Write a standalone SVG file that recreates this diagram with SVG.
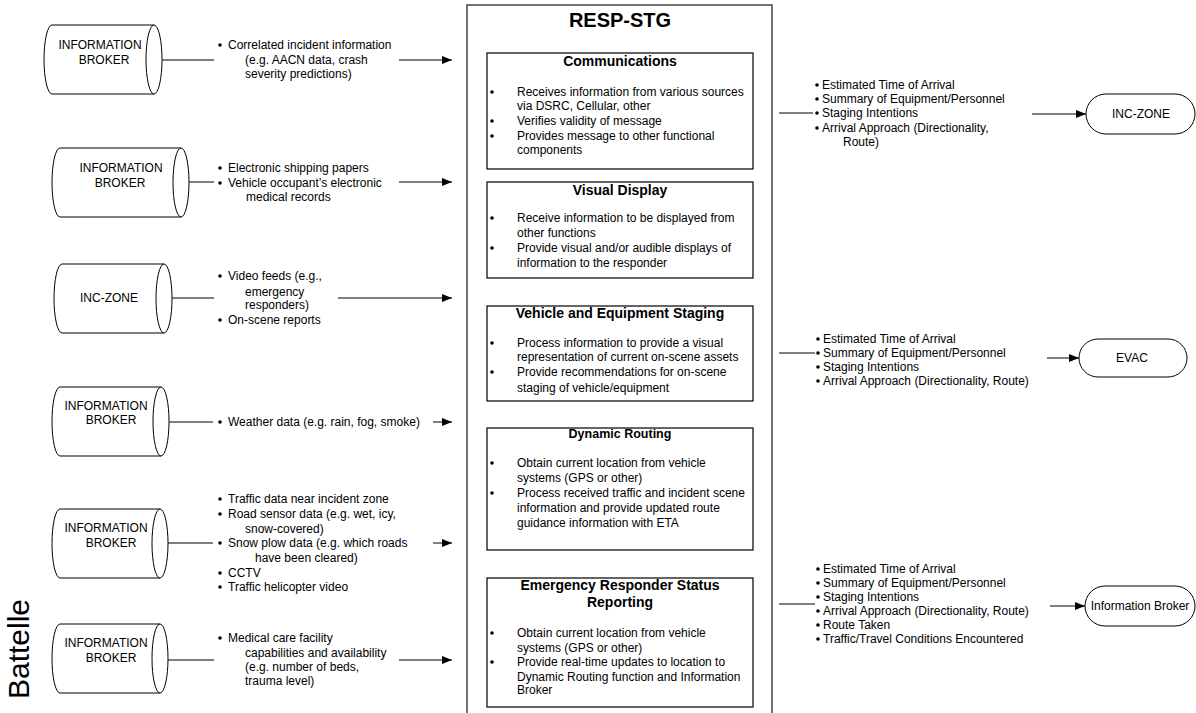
<svg xmlns="http://www.w3.org/2000/svg" width="1196" height="713" viewBox="0 0 1196 713">
  <defs>
    <style>
      text { font-family: "Liberation Sans", Arial, sans-serif; fill: #000; }
      .t { font-size: 12px; }
      .lbl { font-size: 12px; text-anchor: middle; }
      .hd { font-size: 14px; font-weight: bold; text-anchor: middle; }
      .hd2 { font-size: 12.5px; font-weight: bold; text-anchor: middle; }
      .title { font-size: 20px; font-weight: bold; text-anchor: middle; }
      .cyl { fill: #fff; stroke: #000; stroke-width: 1; }
      .box { fill: #fff; stroke: #000; stroke-width: 1.2; }
      .outer { fill: #fff; stroke: #444; stroke-width: 1.5; }
      .term { fill: #fff; stroke: #000; stroke-width: 1; }
      .ln { fill: none; stroke: #000; stroke-width: 1; }
      .arr { fill: none; stroke: #000; stroke-width: 1; marker-end: url(#ah); }
      .dot { fill: #000; }
    </style>
    <marker id="ah" viewBox="0 0 10 8" refX="10" refY="4" markerWidth="10" markerHeight="8" markerUnits="userSpaceOnUse" orient="auto">
      <path d="M0,0 L10,4 L0,8 Z" fill="#000"/>
    </marker>
  </defs>

  <rect width="1196" height="713" fill="#fff"/>

  <!-- RESP-STG container -->
  <g id="resp-stg">
    <rect class="outer" x="467" y="5" width="305" height="720"/>
    <text class="title" x="620" y="27">RESP-STG</text>
  </g>

  <g id="communications">
    <rect class="box" x="487" y="53" width="266" height="116"/>
    <text class="hd" x="620" y="66">Communications</text>
    <circle class="dot" cx="492" cy="92" r="1.8"/>
    <circle class="dot" cx="492" cy="121" r="1.8"/>
    <circle class="dot" cx="492" cy="136" r="1.8"/>
    <text class="t" x="517" y="96">Receives information from various sources</text>
    <text class="t" x="517" y="110">via DSRC, Cellular, other</text>
    <text class="t" x="517" y="125">Verifies validity of message</text>
    <text class="t" x="517" y="140">Provides message to other functional</text>
    <text class="t" x="517" y="154">components</text>
  </g>

  <g id="visual-display">
    <rect class="box" x="487" y="182" width="266" height="96"/>
    <text class="hd" x="620" y="195">Visual Display</text>
    <circle class="dot" cx="492" cy="218" r="1.8"/>
    <circle class="dot" cx="492" cy="248" r="1.8"/>
    <text class="t" x="517" y="222">Receive information to be displayed from</text>
    <text class="t" x="517" y="237">other functions</text>
    <text class="t" x="517" y="252">Provide visual and/or audible displays of</text>
    <text class="t" x="517" y="267">information to the responder</text>
  </g>

  <g id="vehicle-staging">
    <rect class="box" x="487" y="306" width="266" height="95"/>
    <text class="hd" x="620" y="318">Vehicle and Equipment Staging</text>
    <circle class="dot" cx="492" cy="343" r="1.8"/>
    <circle class="dot" cx="492" cy="372" r="1.8"/>
    <text class="t" x="517" y="347">Process information to provide a visual</text>
    <text class="t" x="517" y="361">representation of current on-scene assets</text>
    <text class="t" x="517" y="376">Provide recommendations for on-scene</text>
    <text class="t" x="517" y="392">staging of vehicle/equipment</text>
  </g>

  <g id="dynamic-routing">
    <rect class="box" x="487" y="428" width="266" height="122"/>
    <text class="hd2" x="620" y="438">Dynamic Routing</text>
    <circle class="dot" cx="492" cy="463" r="1.8"/>
    <circle class="dot" cx="492" cy="493" r="1.8"/>
    <text class="t" x="517" y="467">Obtain current location from vehicle</text>
    <text class="t" x="517" y="482">systems (GPS or other)</text>
    <text class="t" x="517" y="497">Process received traffic and incident scene</text>
    <text class="t" x="517" y="512">information and provide updated route</text>
    <text class="t" x="517" y="527">guidance information with ETA</text>
  </g>

  <g id="status-reporting">
    <rect class="box" x="487" y="578" width="266" height="129"/>
    <text class="hd" x="620" y="590">Emergency Responder Status</text>
    <text class="hd" x="620" y="607">Reporting</text>
    <circle class="dot" cx="492" cy="633" r="1.8"/>
    <circle class="dot" cx="492" cy="662" r="1.8"/>
    <text class="t" x="517" y="637">Obtain current location from vehicle</text>
    <text class="t" x="517" y="652">systems (GPS or other)</text>
    <text class="t" x="517" y="666">Provide real-time updates to location to</text>
    <text class="t" x="517" y="681">Dynamic Routing function and Information</text>
    <text class="t" x="517" y="694">Broker</text>
  </g>

  <!-- Source stores (cylinders) -->
  <g id="src-broker-1">
    <path class="cyl" d="M154,25 L52,25 A8,34.5 0 0 0 52,94 L154,94"/>
    <ellipse class="cyl" cx="154" cy="59.5" rx="8" ry="34.5"/>
    <text class="lbl" x="100" y="49">INFORMATION</text>
    <text class="lbl" x="104" y="64">BROKER</text>
  </g>
  <g id="src-broker-2">
    <path class="cyl" d="M181,148 L60,148 A8,34.5 0 0 0 60,217 L181,217"/>
    <ellipse class="cyl" cx="181" cy="182.5" rx="8" ry="34.5"/>
    <text class="lbl" x="121" y="172">INFORMATION</text>
    <text class="lbl" x="120" y="187">BROKER</text>
  </g>
  <g id="src-inc-zone">
    <path class="cyl" d="M164,264 L62,264 A8,34.5 0 0 0 62,333 L164,333"/>
    <ellipse class="cyl" cx="164" cy="298.5" rx="8" ry="34.5"/>
    <text class="lbl" x="109" y="302">INC-ZONE</text>
  </g>
  <g id="src-broker-3">
    <path class="cyl" d="M161,387 L60,387 A8,34.5 0 0 0 60,456 L161,456"/>
    <ellipse class="cyl" cx="161" cy="421.5" rx="8" ry="34.5"/>
    <text class="lbl" x="106" y="410">INFORMATION</text>
    <text class="lbl" x="111" y="424">BROKER</text>
  </g>
  <g id="src-broker-4">
    <path class="cyl" d="M160,509 L60,509 A8,34.5 0 0 0 60,578 L160,578"/>
    <ellipse class="cyl" cx="160" cy="543.5" rx="8" ry="34.5"/>
    <text class="lbl" x="106" y="532">INFORMATION</text>
    <text class="lbl" x="111" y="547">BROKER</text>
  </g>
  <g id="src-broker-5">
    <path class="cyl" d="M160,624 L60,624 A8,34.5 0 0 0 60,693 L160,693"/>
    <ellipse class="cyl" cx="160" cy="658.5" rx="8" ry="34.5"/>
    <text class="lbl" x="106" y="647">INFORMATION</text>
    <text class="lbl" x="111" y="662">BROKER</text>
  </g>

  <!-- Destination terminators -->
  <g id="dst-inc-zone">
    <rect class="term" x="1086" y="94" width="109" height="40" rx="20" ry="20"/>
    <text class="lbl" x="1141" y="118">INC-ZONE</text>
  </g>
  <g id="dst-evac">
    <rect class="term" x="1079" y="339" width="108" height="38" rx="19" ry="19"/>
    <text class="lbl" x="1132" y="362">EVAC</text>
  </g>
  <g id="dst-broker">
    <rect class="term" x="1085" y="586" width="110" height="40" rx="20" ry="20"/>
    <text class="lbl" x="1140" y="610">Information Broker</text>
  </g>

  <!-- Flow labels -->
  <g id="flow-labels">
    <g class="dots">
      <circle class="dot" cx="220" cy="45" r="1.8"/>
      <circle class="dot" cx="220" cy="168" r="1.8"/>
      <circle class="dot" cx="220" cy="183" r="1.8"/>
      <circle class="dot" cx="220" cy="276" r="1.8"/>
      <circle class="dot" cx="220" cy="320" r="1.8"/>
      <circle class="dot" cx="220" cy="422" r="1.8"/>
      <circle class="dot" cx="220" cy="499" r="1.8"/>
      <circle class="dot" cx="220" cy="514" r="1.8"/>
      <circle class="dot" cx="220" cy="543" r="1.8"/>
      <circle class="dot" cx="220" cy="573" r="1.8"/>
      <circle class="dot" cx="220" cy="587" r="1.8"/>
      <circle class="dot" cx="220" cy="638" r="1.8"/>
    </g>
    <text class="t" x="228" y="49">Correlated incident information</text>
    <text class="t" x="245" y="64">(e.g. AACN data, crash</text>
    <text class="t" x="245" y="78">severity predictions)</text>

    <text class="t" x="228" y="172">Electronic shipping papers</text>
    <text class="t" x="228" y="187">Vehicle occupant’s electronic</text>
    <text class="t" x="246" y="201">medical records</text>

    <text class="t" x="228" y="280">Video feeds (e.g.,</text>
    <text class="t" x="245" y="296">emergency</text>
    <text class="t" x="245" y="309">responders)</text>
    <text class="t" x="228" y="324">On-scene reports</text>

    <text class="t" x="228" y="426">Weather data (e.g. rain, fog, smoke)</text>

    <text class="t" x="228" y="503">Traffic data near incident zone</text>
    <text class="t" x="228" y="518">Road sensor data (e.g. wet, icy,</text>
    <text class="t" x="245" y="533">snow-covered)</text>
    <text class="t" x="228" y="547">Snow plow data (e.g. which roads</text>
    <text class="t" x="255" y="562">have been cleared)</text>
    <text class="t" x="228" y="577">CCTV</text>
    <text class="t" x="228" y="591">Traffic helicopter video</text>

    <text class="t" x="228" y="642">Medical care facility</text>
    <text class="t" x="245" y="657">capabilities and availability</text>
    <text class="t" x="245" y="671">(e.g. number of beds,</text>
    <text class="t" x="245" y="685">trauma level)</text>

    <g class="dots">
      <circle class="dot" cx="817" cy="85" r="1.8"/>
      <circle class="dot" cx="817" cy="99" r="1.8"/>
      <circle class="dot" cx="817" cy="113" r="1.8"/>
      <circle class="dot" cx="817" cy="128" r="1.8"/>
      <circle class="dot" cx="818" cy="339" r="1.8"/>
      <circle class="dot" cx="818" cy="353" r="1.8"/>
      <circle class="dot" cx="818" cy="367" r="1.8"/>
      <circle class="dot" cx="818" cy="381" r="1.8"/>
      <circle class="dot" cx="818" cy="569" r="1.8"/>
      <circle class="dot" cx="818" cy="583" r="1.8"/>
      <circle class="dot" cx="818" cy="597" r="1.8"/>
      <circle class="dot" cx="818" cy="611" r="1.8"/>
      <circle class="dot" cx="818" cy="625" r="1.8"/>
      <circle class="dot" cx="818" cy="639" r="1.8"/>
    </g>
    <text class="t" x="822" y="89">Estimated Time of Arrival</text>
    <text class="t" x="822" y="103">Summary of Equipment/Personnel</text>
    <text class="t" x="822" y="117">Staging Intentions</text>
    <text class="t" x="822" y="132">Arrival Approach (Directionality,</text>
    <text class="t" x="843" y="146">Route)</text>

    <text class="t" x="823" y="343">Estimated Time of Arrival</text>
    <text class="t" x="823" y="357">Summary of Equipment/Personnel</text>
    <text class="t" x="823" y="371">Staging Intentions</text>
    <text class="t" x="823" y="385">Arrival Approach (Directionality, Route)</text>

    <text class="t" x="823" y="573">Estimated Time of Arrival</text>
    <text class="t" x="823" y="587">Summary of Equipment/Personnel</text>
    <text class="t" x="823" y="601">Staging Intentions</text>
    <text class="t" x="823" y="615">Arrival Approach (Directionality, Route)</text>
    <text class="t" x="823" y="629">Route Taken</text>
    <text class="t" x="823" y="643">Traffic/Travel Conditions Encountered</text>
  </g>

  <!-- Connectors -->
  <g id="connectors">
    <line class="ln" x1="162" y1="60" x2="214" y2="60"/>
    <line class="arr" x1="399" y1="60" x2="452" y2="60"/>
    <line class="ln" x1="189" y1="182" x2="214" y2="182"/>
    <line class="arr" x1="399" y1="182" x2="452" y2="182"/>
    <line class="ln" x1="172" y1="298" x2="214" y2="298"/>
    <line class="arr" x1="338" y1="298" x2="452" y2="298"/>
    <line class="ln" x1="169" y1="422" x2="213" y2="422"/>
    <line class="arr" x1="433" y1="422" x2="452" y2="422"/>
    <line class="ln" x1="168" y1="543" x2="213" y2="543"/>
    <line class="arr" x1="433" y1="543" x2="452" y2="543"/>
    <line class="ln" x1="168" y1="660" x2="214" y2="660"/>
    <line class="arr" x1="399" y1="660" x2="452" y2="660"/>

    <line class="ln" x1="779" y1="113" x2="813" y2="113"/>
    <line class="arr" x1="1032" y1="114" x2="1086" y2="114"/>
    <line class="ln" x1="779" y1="353" x2="815" y2="353"/>
    <line class="arr" x1="1047" y1="358" x2="1079" y2="358"/>
    <line class="ln" x1="779" y1="604" x2="815" y2="604"/>
    <line class="arr" x1="1050" y1="606" x2="1085" y2="606"/>
  </g>

  <text x="0" y="0" font-size="30" text-anchor="middle" transform="translate(29,649) rotate(-90)">Battelle</text>
</svg>
